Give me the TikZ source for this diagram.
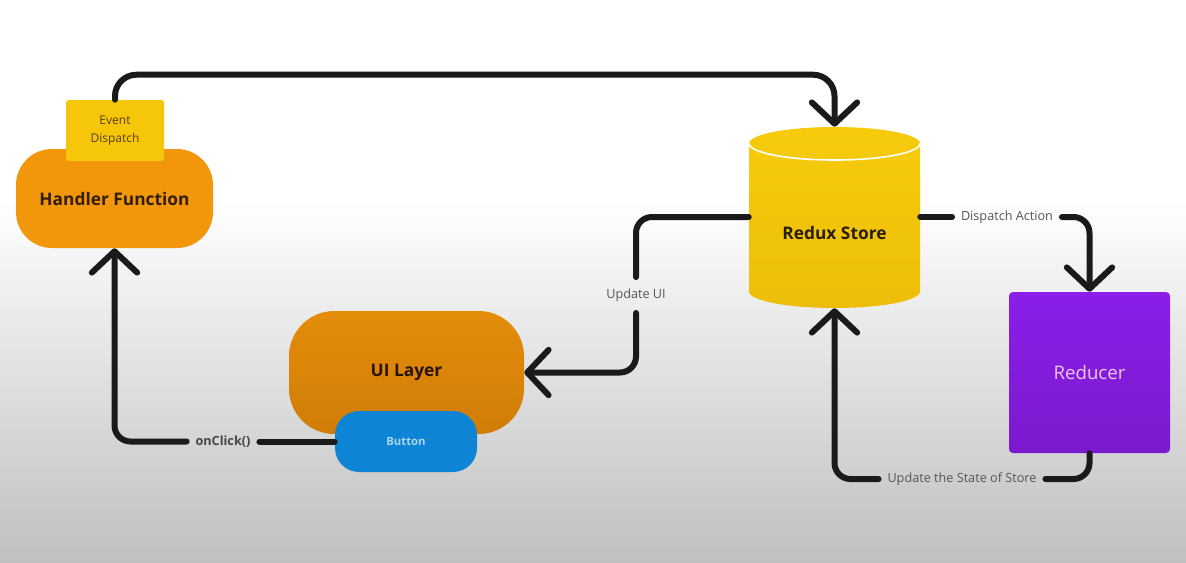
\documentclass[tikz,border=0pt]{standalone}
\usepackage{fontspec}
\setmainfont{Open Sans}
\usepackage{xcolor}
\usepackage{tikz}
\usetikzlibrary{arrows.meta}
\definecolor{linec}{RGB}{26,26,26}
\definecolor{labc}{RGB}{85,85,85}
\definecolor{octxt}{RGB}{70,70,70}
\definecolor{bgbot}{RGB}{192,192,192}
\definecolor{hfc}{RGB}{242,150,12}
\definecolor{hftxt}{RGB}{50,30,5}
\definecolor{edc}{RGB}{245,198,10}
\definecolor{edtxt}{RGB}{90,65,0}
\definecolor{storetop}{RGB}{247,203,12}
\definecolor{storebot}{RGB}{236,190,10}
\definecolor{storetxt}{RGB}{40,30,0}
\definecolor{uitop}{RGB}{228,140,10}
\definecolor{uibot}{RGB}{208,125,8}
\definecolor{uitxt}{RGB}{40,20,5}
\definecolor{btnc}{RGB}{14,132,212}
\definecolor{btntxt}{RGB}{170,215,240}
\definecolor{redtop}{RGB}{139,30,232}
\definecolor{redbot}{RGB}{122,26,206}
\definecolor{redtxt}{RGB}{235,200,245}

\begin{document}
\begin{tikzpicture}[x=0.75pt,y=0.75pt,yscale=-1,xscale=1,
  conn/.style={draw=linec, line width=4.5pt, line cap=round, rounded corners=12pt},
  arr/.style={conn, -{Straight Barb[length=16pt,width=34pt,round]}},
  pill/.style={inner sep=0pt, align=center, font=\fontsize{13pt}{15pt}\selectfont\bfseries},
  lbl/.style={inner xsep=6.5pt, inner ysep=8.5pt, text=labc, font=\fontsize{9.5pt}{11pt}\selectfont}]
%set diagram left start at 0, and has height of 562
\fill[white] (0,0) rectangle (1186,562);
\shade[top color=white, bottom color=bgbot] (0,200) rectangle (1186,562);
\useasboundingbox (0,0) rectangle (1186,562);

%Rounded Rect: Handler Function
\node[pill, minimum width=147.75pt, minimum height=74.25pt, rounded corners=27pt, fill=hfc, text=hftxt] (hf) at (114.5,198.5) {Handler Function};
%Rect: Event Dispatch
\node[inner sep=0pt, minimum width=73.5pt, minimum height=45.75pt, rounded corners=2pt, fill=edc, text=edtxt, align=center, font=\fontsize{9pt}{13.5pt}\selectfont] (ed) at (115,130.5) {Event\\Dispatch};

%Can: Redux Store
\shade[top color=storetop, bottom color=storebot] (749,143.5) -- (749,291.5) arc[start angle=180, end angle=0, x radius=85.5, y radius=16.5] -- (920,143.5) arc[start angle=0, end angle=-180, x radius=85.5, y radius=16.5] -- cycle;
\draw[white, line width=1.2pt] (749,143.5) arc[start angle=180, end angle=0, x radius=85.5, y radius=16.5];
\node[minimum width=128.25pt, minimum height=135.75pt, inner sep=0pt] (store) at (834.5,217.5) {};
\node[pill, text=storetxt] (storelbl) at (834.5,233) {Redux Store};

%Rounded Rect: UI Layer
\node[pill, minimum width=176.25pt, minimum height=92.25pt, rounded corners=34pt, top color=uitop, bottom color=uibot, text=uitxt] (ui) at (406.5,372.5) {UI Layer};
%Rounded Rect: Button
\node[pill, minimum width=106.5pt, minimum height=45.75pt, rounded corners=18pt, fill=btnc, text=btntxt, font=\fontsize{8.5pt}{10pt}\selectfont\bfseries] (btn) at (406,441.5) {Button};

%Rect: Reducer
\node[minimum width=120.75pt, minimum height=120.75pt, inner sep=0pt, rounded corners=3pt, top color=redtop, bottom color=redbot, text=redtxt, font=\fontsize{14pt}{16pt}\selectfont] (red) at (1089.5,372.5) {Reducer};

% Text Node
\node[lbl, font=\fontsize{9.5pt}{11pt}\selectfont\bfseries, text=octxt] (oc) at (223,441.5) {onClick()};
% Text Node
\node[lbl] (uu) at (636,295) {Update UI};
% Text Node
\node[lbl] (da) at (1007,217) {Dispatch Action};
% Text Node
\node[lbl] (us) at (962,479) {Update the State of Store};

%Connectors
\draw[arr, rounded corners=16pt] (ed.north) -- ++(0,-25) -| (store.north);
\draw[conn] (store.west |- da) -| (uu.north);
\draw[arr] (uu.south) |- (ui.east);
\draw[conn] (store.east |- da) -- (da.west);
\draw[arr] (da.east) -| (red.north);
\draw[conn] (red.south) |- (us.east);
\draw[arr] (us.west) -| (store.south);
\draw[conn] (btn.west) -- (oc.east);
\draw[arr] (oc.west) -| (hf.south);

\end{tikzpicture}
\end{document}
